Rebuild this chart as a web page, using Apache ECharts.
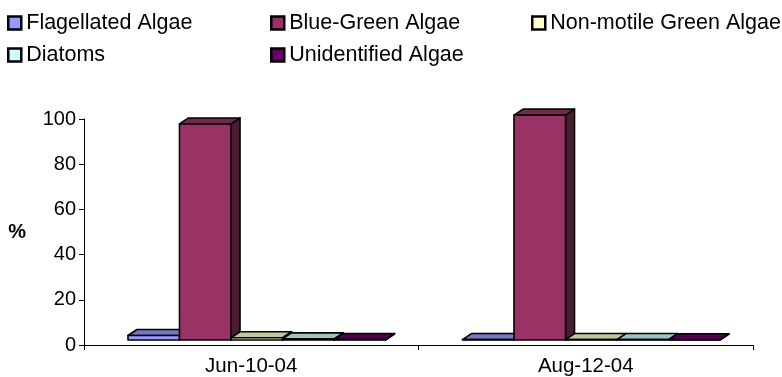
<!DOCTYPE html>
<html>
<head>
<meta charset="utf-8">
<script src="https://cdn.jsdelivr.net/npm/echarts@6/dist/echarts.min.js"></script>
<style>
  html, body { margin: 0; padding: 0; background: #fff; }
  #chart { width: 782px; height: 377px; }
</style>
</head>
<body>
<div id="chart"></div>
<script>
const categories = ['Jun-10-04', 'Aug-12-04'];
const seriesNames = ['Flagellated Algae', 'Blue-Green Algae', 'Non-motile Green Algae', 'Diatoms', 'Unidentified Algae'];
const flagellated = [2, 0.2];
const blueGreen = [95.6, 99.5];
const nonMotile = [1, 0.2];
const diatoms = [0.5, 0.2];
const unidentified = [0.2, 0.1];
const yTicks = [0, 20, 40, 60, 80, 100];

const values = [flagellated, blueGreen, nonMotile, diatoms, unidentified];
const colors = ['#9999FF', '#993366', '#FFFFCC', '#CCFFFF', '#660066'];
const FONT = '"Liberation Sans", Arial, sans-serif';

function shade(hex, k) {
  const n = parseInt(hex.slice(1), 16);
  const r = Math.round(((n >> 16) & 255) * k);
  const g = Math.round(((n >> 8) & 255) * k);
  const b = Math.round((n & 255) * k);
  return 'rgb(' + r + ',' + g + ',' + b + ')';
}

// fake 3d column: front face, top face, right side
function makeRender(idx) {
  const base = colors[idx];
  return function (params, api) {
    const cat = api.value(0);
    const val = api.value(1);
    const p0 = api.coord([cat, 0]);
    const p1 = api.coord([cat, val]);
    const band = api.size([1, 0])[0];
    const w = band * 0.154;
    const x0 = p0[0] - band / 2 + band * 0.1315 + idx * w;
    const lift = 5, dx = 9, dy = -6;
    const yb = p0[1] - lift;
    const yt = p1[1] - lift;
    const line = { stroke: '#000', lineWidth: 1.6, lineJoin: 'round' };
    return {
      type: 'group',
      children: [
        {
          type: 'polygon',
          shape: { points: [[x0 + w, yt], [x0 + w + dx, yt + dy], [x0 + w + dx, yb + dy], [x0 + w, yb]] },
          style: Object.assign({ fill: shade(base, 0.5) }, line)
        },
        {
          type: 'polygon',
          shape: { points: [[x0, yt], [x0 + dx, yt + dy], [x0 + w + dx, yt + dy], [x0 + w, yt]] },
          style: Object.assign({ fill: shade(base, 0.77) }, line)
        },
        {
          type: 'rect',
          shape: { x: x0, y: yt, width: w, height: Math.max(yb - yt, 0) },
          style: Object.assign({ fill: base }, line)
        }
      ]
    };
  };
}

const legendPos = [[7, 12], [270, 12], [531, 12], [7, 44], [270, 44]];

const chart = echarts.init(document.getElementById('chart'));
chart.setOption({
  animation: false,
  backgroundColor: '#fff',
  legend: seriesNames.map((name, i) => ({
    data: [{ name: name, itemStyle: { color: colors[i], borderColor: '#000', borderWidth: 2.5 } }],
    left: legendPos[i][0],
    top: legendPos[i][1],
    padding: 0,
    icon: 'rect',
    itemWidth: 13,
    itemHeight: 13,
    itemGap: 0,
    selectedMode: false,
    textStyle: { fontFamily: FONT, fontSize: 21.5, color: '#000' }
  })),
  grid: { left: 84, right: 29, top: 119, bottom: 30 },
  xAxis: {
    type: 'category',
    data: categories,
    boundaryGap: true,
    axisLine: { lineStyle: { color: '#000', width: 1 } },
    axisTick: { show: true, length: 5, lineStyle: { color: '#000' } },
    axisLabel: { fontFamily: FONT, fontSize: 20.5, color: '#000', margin: 11 }
  },
  yAxis: {
    type: 'value',
    min: yTicks[0],
    max: yTicks[yTicks.length - 1],
    interval: 20,
    name: '%',
    nameLocation: 'middle',
    nameRotate: 0,
    nameGap: 58,
    nameTextStyle: { fontFamily: FONT, fontSize: 20, fontWeight: 'bold', color: '#000', padding: [6, 0, 0, 0] },
    axisLine: { show: true, lineStyle: { color: '#000', width: 1 } },
    axisTick: { show: true, length: 5, lineStyle: { color: '#000' } },
    axisLabel: { fontFamily: FONT, fontSize: 20, color: '#000', margin: 8 },
    splitLine: { show: false }
  },
  series: seriesNames.map((name, i) => ({
    name: name,
    type: 'custom',
    itemStyle: { color: colors[i] },
    renderItem: makeRender(i),
    encode: { x: 0, y: 1 },
    data: categories.map((c, j) => [j, values[i][j]])
  }))
});
</script>
</body>
</html>
